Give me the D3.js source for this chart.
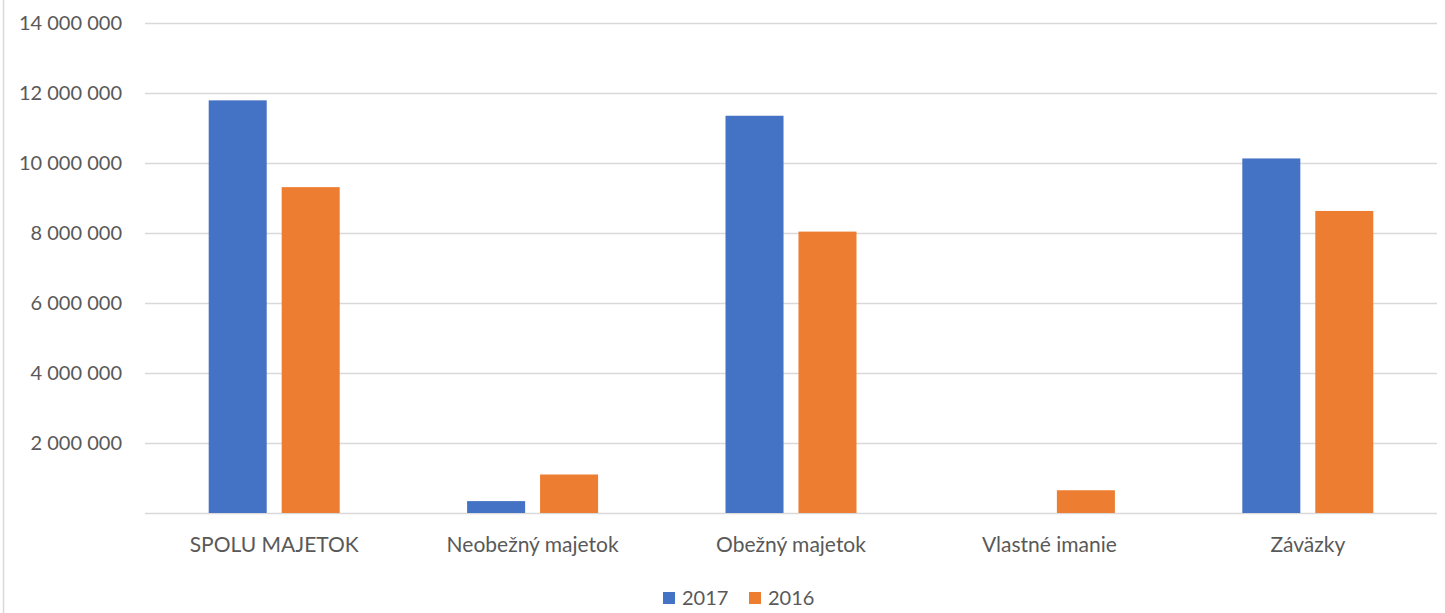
<!DOCTYPE html>
<html>
<head>
<meta charset="utf-8">
<script src="https://cdn.jsdelivr.net/npm/d3@7"></script>
<style>
  html, body { margin: 0; padding: 0; background: #fff; }
  svg { display: block; }
  text { font-family: Lato, "Open Sans", sans-serif; fill: #595959; }
</style>
</head>
<body>
<svg id="chart" width="1445" height="613"></svg>
<script>
const categories = ["SPOLU MAJETOK", "Neobežný majetok", "Obežný majetok", "Vlastné imanie", "Záväzky"];
const seriesNames = ["2017", "2016"];
const values2017 = [11790000, 340000, 11350000, 0, 10130000];
const values2016 = [9310000, 1100000, 8040000, 650000, 8630000];
const yTicks = [0, 2000000, 4000000, 6000000, 8000000, 10000000, 12000000, 14000000];
const colors = ["#4472C4", "#ED7D31"];

const svg = d3.select("#chart");
const W = 1445, H = 613;
const plot = { left: 145, right: 1437, top: 23, bottom: 513 };

// left chart border
svg.append("line").attr("x1", 3.5).attr("x2", 3.5).attr("y1", 0).attr("y2", H)
  .attr("stroke", "#d9d9d9").attr("stroke-width", 1.5);

const y = d3.scaleLinear().domain([0, 14000000]).range([plot.bottom, plot.top]);
const x0 = d3.scaleBand().domain(categories).range([plot.left, plot.right]).padding(0);
const x1 = d3.scaleBand().domain(seriesNames).range([0, x0.bandwidth()]).paddingInner(0.205).paddingOuter(0.873);

const fmt = d3.formatLocale({ decimal: ",", thousands: " ", grouping: [3], currency: ["", ""] }).format(",d");

// gridlines
svg.append("g").selectAll("line").data(yTicks).join("line")
  .attr("x1", plot.left).attr("x2", plot.right)
  .attr("y1", d => Math.round(y(d)) + 0.5).attr("y2", d => Math.round(y(d)) + 0.5)
  .attr("stroke", "#d9d9d9").attr("stroke-width", 1.6);

// y tick labels
svg.append("g").selectAll("text").data(yTicks.filter(d => d > 0)).join("text")
  .attr("x", 122).attr("y", d => y(d)).attr("dy", "0.36em")
  .attr("text-anchor", "end").attr("font-size", 20)
  .text(d => fmt(d));

// bars
const data = categories.map((c, i) => ({ c, vals: [values2017[i], values2016[i]] }));
const groups = svg.append("g").selectAll("g").data(data).join("g")
  .attr("transform", d => `translate(${x0(d.c)},0)`);
groups.selectAll("rect").data(d => d.vals.map((v, j) => ({ v, s: seriesNames[j], j })))
  .join("rect")
  .attr("x", d => x1(d.s)).attr("width", x1.bandwidth())
  .attr("y", d => y(d.v)).attr("height", d => y(0) - y(d.v))
  .attr("fill", d => colors[d.j]);

// x labels
svg.append("g").selectAll("text").data(categories).join("text")
  .attr("x", d => x0(d) + x0.bandwidth() / 2).attr("y", 552)
  .attr("text-anchor", "middle").attr("font-size", 21)
  .text(d => d);

// legend
const legend = svg.append("g");
const legendItems = [{ name: seriesNames[0], x: 663 }, { name: seriesNames[1], x: 749 }];
legendItems.forEach((it, i) => {
  legend.append("rect").attr("x", it.x).attr("y", 592).attr("width", 12).attr("height", 12).attr("fill", colors[i]);
  legend.append("text").attr("x", it.x + 19).attr("y", 605).attr("font-size", 20).text(it.name);
});
</script>
</body>
</html>
